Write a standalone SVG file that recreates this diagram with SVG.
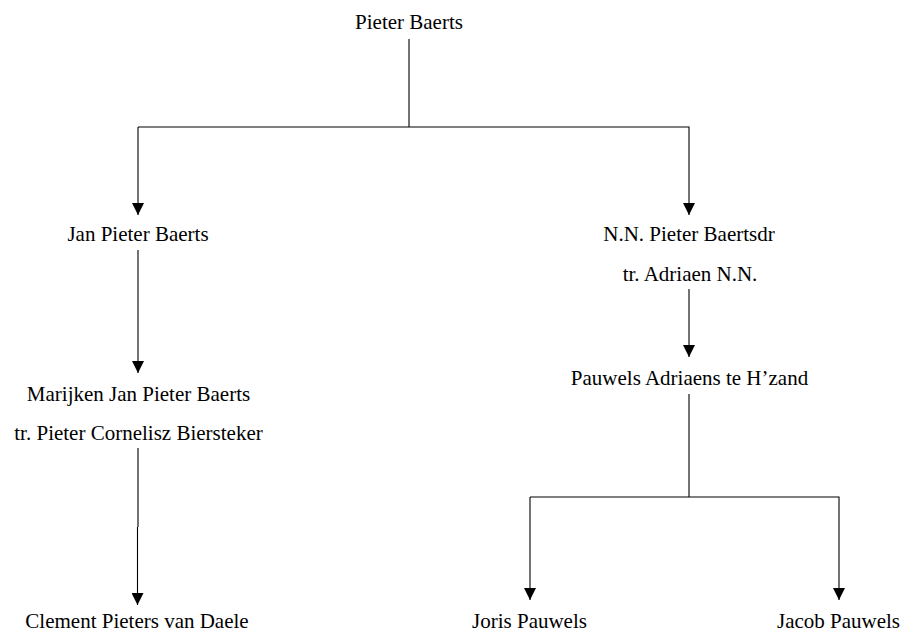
<svg xmlns="http://www.w3.org/2000/svg" width="903" height="632" viewBox="0 0 903 632">
<style>
text{font-family:"Liberation Serif","Times New Roman",serif;font-size:21px;fill:#000;text-anchor:middle}
.con{fill:none;stroke:#000;stroke-width:1.1}
</style>
<defs>
<marker id="ah" markerUnits="userSpaceOnUse" markerWidth="12" markerHeight="12" viewBox="0 0 10 10" refX="10" refY="5" orient="auto">
<path d="M0,0 L10,5 L0,10 Z" fill="#000"/>
</marker>
</defs>
<rect width="903" height="632" fill="#fff"/>
<g id="connectors">
<path class="con" d="M409,39 V127"/>
<path class="con" d="M138,127 H689 V215" marker-end="url(#ah)"/>
<path class="con" d="M138,127 V215" marker-end="url(#ah)"/>
<path class="con" d="M138,250 V373" marker-end="url(#ah)"/>
<path class="con" d="M138,448 V527 M137.5,527 V605" marker-end="url(#ah)"/>
<path class="con" d="M689,289 V357" marker-end="url(#ah)"/>
<path class="con" d="M689,394 V497"/>
<path class="con" d="M530,497 H839 V600" marker-end="url(#ah)"/>
<path class="con" d="M530,497 V600" marker-end="url(#ah)"/>
</g>
<g id="n-pieter"><text x="409" y="29">Pieter Baerts</text></g>
<g id="n-jan"><text x="138" y="241">Jan Pieter Baerts</text></g>
<g id="n-nn"><text x="689" y="241">N.N. Pieter Baertsdr</text><text x="690" y="281">tr. Adriaen N.N.</text></g>
<g id="n-marijken"><text x="138.5" y="401">Marijken Jan Pieter Baerts</text><text x="138.5" y="440">tr. Pieter Cornelisz Biersteker</text></g>
<g id="n-pauwels"><text x="689.5" y="385">Pauwels Adriaens te H’zand</text></g>
<g id="n-clement"><text x="137" y="628">Clement Pieters van Daele</text></g>
<g id="n-joris"><text x="529.5" y="628">Joris Pauwels</text></g>
<g id="n-jacob"><text x="838.5" y="628">Jacob Pauwels</text></g>
</svg>
